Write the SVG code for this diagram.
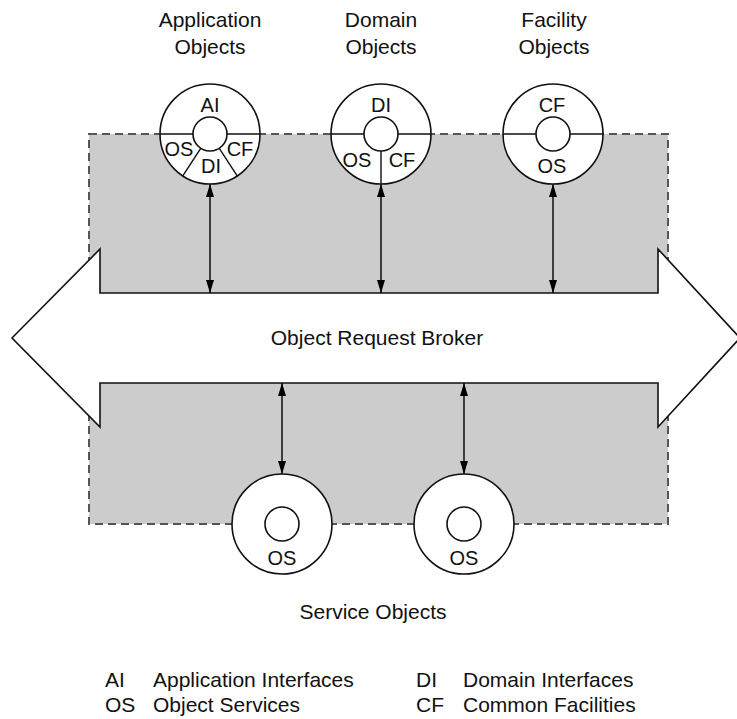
<svg xmlns="http://www.w3.org/2000/svg" width="737" height="719" viewBox="0 0 737 719">
  <defs>
    <marker id="head" viewBox="0 0 13 8" refX="13" refY="4" markerWidth="13" markerHeight="8" markerUnits="userSpaceOnUse" orient="auto-start-reverse">
      <path d="M0,0 L13,4 L0,8 z" fill="#000"/>
    </marker>
    <style>
      text { font-family: "Liberation Sans", Arial, sans-serif; fill: #111; }
      .t { font-size: 21px; text-anchor: middle; }
      .c { font-size: 20px; text-anchor: middle; }
      .lg { font-size: 21px; }
      .ring { fill: #fff; stroke: #111; stroke-width: 1.6; }
      .div { stroke: #111; stroke-width: 1.4; fill: none; }
      .link { stroke: #000; stroke-width: 1.4; fill: none; marker-start: url(#head); marker-end: url(#head); }
    </style>
  </defs>

  <rect width="737" height="719" fill="#fff"/>

  <!-- shaded interface region -->
  <rect id="region" x="89" y="134" width="579" height="390" fill="#cccccc" stroke="#555" stroke-width="2" stroke-dasharray="8 5"/>

  <!-- object request broker -->
  <g id="orb">
    <polygon points="12,338 100,249 100,293 658,293 658,249 740,338 658,427 658,383 100,383 100,427" fill="#fff" stroke="#111" stroke-width="1.6" stroke-linejoin="miter"/>
    <text class="t" x="377" y="345">Object Request Broker</text>
  </g>

  <!-- connectors -->
  <g id="connectors">
    <line class="link" x1="210" y1="184" x2="210" y2="293"/>
    <line class="link" x1="381" y1="184" x2="381" y2="293"/>
    <line class="link" x1="553" y1="184" x2="553" y2="293"/>
    <line class="link" x1="282" y1="383" x2="282" y2="474"/>
    <line class="link" x1="464" y1="383" x2="464" y2="474"/>
  </g>

  <!-- application objects -->
  <g id="application-objects">
    <text class="t" x="210" y="27">Application</text>
    <text class="t" x="210" y="54">Objects</text>
    <circle class="ring" cx="210" cy="134" r="50"/>
    <circle class="ring" cx="210" cy="134" r="17"/>
    <path class="div" d="M160,134 H193 M227,134 H260 M200.7,148.3 L182.8,175.9 M219.3,148.3 L237.2,175.9"/>
    <text class="c" x="210" y="112">AI</text>
    <text class="c" x="179" y="156">OS</text>
    <text class="c" x="240" y="156">CF</text>
    <text class="c" x="211" y="173">DI</text>
  </g>

  <!-- domain objects -->
  <g id="domain-objects">
    <text class="t" x="381" y="27">Domain</text>
    <text class="t" x="381" y="54">Objects</text>
    <circle class="ring" cx="381" cy="134" r="50"/>
    <circle class="ring" cx="381" cy="134" r="17"/>
    <path class="div" d="M331,134 H364 M398,134 H431 M381,151 V184"/>
    <text class="c" x="381" y="112">DI</text>
    <text class="c" x="357" y="167">OS</text>
    <text class="c" x="402" y="167">CF</text>
  </g>

  <!-- facility objects -->
  <g id="facility-objects">
    <text class="t" x="554" y="27">Facility</text>
    <text class="t" x="554" y="54">Objects</text>
    <circle class="ring" cx="553" cy="134" r="50"/>
    <circle class="ring" cx="553" cy="134" r="17"/>
    <path class="div" d="M503,134 H536 M570,134 H603"/>
    <text class="c" x="552" y="112">CF</text>
    <text class="c" x="552" y="173">OS</text>
  </g>

  <!-- service objects -->
  <g id="service-object-1">
    <circle class="ring" cx="282" cy="524" r="50"/>
    <circle class="ring" cx="282" cy="524" r="17"/>
    <text class="c" x="282" y="565">OS</text>
  </g>
  <g id="service-object-2">
    <circle class="ring" cx="464" cy="524" r="50"/>
    <circle class="ring" cx="464" cy="524" r="17"/>
    <text class="c" x="464" y="565">OS</text>
  </g>
  <text class="t" x="373" y="619">Service Objects</text>

  <!-- legend -->
  <g id="legend">
    <text class="lg" x="105" y="687">AI</text>
    <text class="lg" x="153" y="687">Application Interfaces</text>
    <text class="lg" x="416" y="687">DI</text>
    <text class="lg" x="463" y="687">Domain Interfaces</text>
    <text class="lg" x="105" y="712">OS</text>
    <text class="lg" x="153" y="712">Object Services</text>
    <text class="lg" x="416" y="712">CF</text>
    <text class="lg" x="463" y="712">Common Facilities</text>
  </g>
</svg>
